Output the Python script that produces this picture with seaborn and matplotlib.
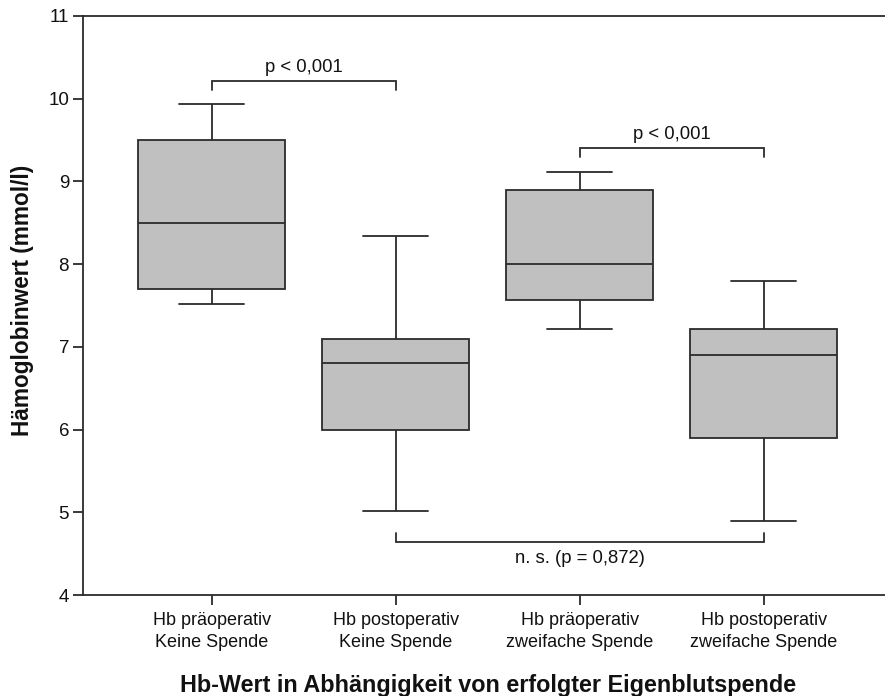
import numpy as np
import pandas as pd
import matplotlib
matplotlib.use("Agg")
import matplotlib.pyplot as plt
import seaborn as sns

# Five-number summaries (mmol/l) for each group
categories = [
    "Hb präoperativ\nKeine Spende",
    "Hb postoperativ\nKeine Spende",
    "Hb präoperativ\nzweifache Spende",
    "Hb postoperativ\nzweifache Spende",
]
hb_min = [7.52, 5.02, 7.22, 4.90]
hb_q1 = [7.70, 6.00, 7.57, 5.90]
hb_median = [8.50, 6.80, 8.00, 6.90]
hb_q3 = [9.50, 7.10, 8.90, 7.22]
hb_max = [9.94, 8.34, 9.11, 7.80]

# Significance brackets: (left group, right group, bracket level, leg end, label)
brackets = [
    (0, 1, 10.22, 10.11, "p < 0,001", "above"),
    (2, 3, 9.41, 9.30, "p < 0,001", "above"),
    (1, 3, 4.64, 4.75, "n. s. (p = 0,872)", "below"),
]

rows = []
for i, cat in enumerate(categories):
    for v in (hb_min[i], hb_q1[i], hb_median[i], hb_q3[i], hb_max[i]):
        rows.append({"Gruppe": cat, "Hb": v})
df = pd.DataFrame(rows)

sns.set_theme(style="white")
plt.rcParams["font.family"] = ["Liberation Sans", "DejaVu Sans"]

W, H = 885, 696
fig = plt.figure(figsize=(W / 100, H / 100), dpi=100)
ax = fig.add_axes([83 / W, (H - 595) / H, (885 - 83) / W, (595 - 16) / H])

edge = "#2b2b2b"
txt = "#111111"
lw = 1.3
sns.boxplot(
    data=df, x="Gruppe", y="Hb", order=categories, ax=ax,
    whis=(0, 100), width=0.8, color="#c0c0c0", saturation=1,
    linecolor=edge, linewidth=lw, fliersize=0, capwidths=0.355,
)

ax.set_ylim(4, 11)
ax.set_xlim(-0.70, 3.66)
ax.set_yticks(range(4, 12))
ax.tick_params(axis="both", direction="out", length=7, width=lw, color=edge,
               labelcolor=txt, left=True, bottom=True)
ax.tick_params(axis="x", pad=5, labelsize=13)
ax.tick_params(axis="y", pad=3, labelsize=13.5)
for lab in ax.get_xticklabels():
    lab.set_linespacing(1.38)

for side in ("left", "bottom", "top"):
    ax.spines[side].set_visible(True)
    ax.spines[side].set_color(edge)
    ax.spines[side].set_linewidth(lw)
ax.spines["right"].set_visible(False)

ax.set_ylabel("Hämoglobinwert (mmol/l)", fontsize=16.3, fontweight="bold", color=txt)
ax.set_xlabel("Hb-Wert in Abhängigkeit von erfolgter Eigenblutspende",
              fontsize=16.8, fontweight="bold", color=txt)
ax.yaxis.set_label_coords(-0.061, 0.508)
ax.xaxis.set_label_coords(0.505, -0.137)

for x0, x1, level, leg, label, where in brackets:
    ax.plot([x0, x0, x1, x1], [leg, level, level, leg], color=edge, lw=lw,
            solid_joinstyle="miter")
    if where == "above":
        ax.text((x0 + x1) / 2, level + 0.06, label, ha="center", va="bottom",
                fontsize=13.3, color=txt)
    else:
        ax.text((x0 + x1) / 2, level - 0.1, label, ha="center", va="top",
                fontsize=13.3, color=txt)

fig.savefig("out.png", dpi=100)
